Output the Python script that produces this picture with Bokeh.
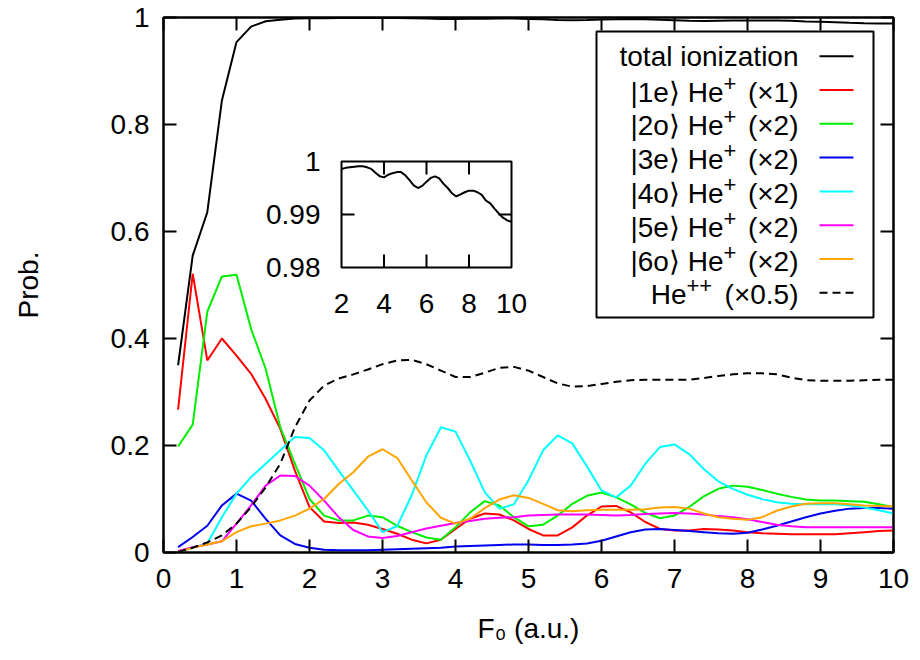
from bokeh.plotting import figure
from bokeh.models import Range1d, LinearAxis, Label, BoxAnnotation, Arrow
from bokeh.embed import file_html
from bokeh.resources import INLINE
from bokeh.core.properties import value

# ---------------- data ----------------
F0 = [0.2, 0.4, 0.6, 0.8, 1.0, 1.2, 1.4, 1.6, 1.8, 2.0,
      2.2, 2.4, 2.6, 2.8, 3.0, 3.2, 3.4, 3.6, 3.8, 4.0,
      4.2, 4.4, 4.6, 4.8, 5.0, 5.2, 5.4, 5.6, 5.8, 6.0,
      6.2, 6.4, 6.6, 6.8, 7.0, 7.2, 7.4, 7.6, 7.8, 8.0,
      8.2, 8.4, 8.6, 8.8, 9.0, 9.2, 9.4, 9.6, 9.8, 10.0]

total_ion = [0.350, 0.555, 0.636, 0.845, 0.954, 0.983, 0.993, 0.996, 0.998, 0.9986,
             0.9988, 0.9989, 0.9990, 0.9991, 0.9991, 0.9989, 0.9986, 0.9979, 0.9972, 0.9970,
             0.9975, 0.9978, 0.9980, 0.9980, 0.9974, 0.9965, 0.9955, 0.9950, 0.9954, 0.9962,
             0.9969, 0.9972, 0.9968, 0.9958, 0.9950, 0.9940, 0.9934, 0.9938, 0.9942, 0.9945,
             0.9945, 0.9942, 0.9937, 0.9926, 0.9921, 0.9911, 0.9902, 0.9894, 0.9889, 0.9886]

he1e = [0.267, 0.521, 0.359, 0.400, 0.368, 0.334, 0.287, 0.231, 0.153, 0.085,
        0.058, 0.055, 0.056, 0.052, 0.044, 0.035, 0.024, 0.017, 0.024, 0.044,
        0.063, 0.073, 0.071, 0.060, 0.044, 0.032, 0.032, 0.047, 0.069, 0.086,
        0.087, 0.075, 0.057, 0.044, 0.041, 0.041, 0.044, 0.043, 0.041, 0.038,
        0.036, 0.035, 0.034, 0.034, 0.034, 0.034, 0.036, 0.038, 0.040, 0.041]

he2o = [0.198, 0.239, 0.450, 0.516, 0.519, 0.418, 0.343, 0.234, 0.166, 0.100,
        0.069, 0.060, 0.060, 0.069, 0.066, 0.050, 0.038, 0.028, 0.024, 0.047,
        0.075, 0.096, 0.088, 0.066, 0.049, 0.052, 0.069, 0.091, 0.106, 0.112,
        0.103, 0.090, 0.074, 0.064, 0.069, 0.085, 0.105, 0.119, 0.125, 0.123,
        0.117, 0.110, 0.104, 0.099, 0.097, 0.097, 0.096, 0.095, 0.090, 0.085]

he3e = [0.010, 0.029, 0.050, 0.088, 0.110, 0.097, 0.063, 0.032, 0.016, 0.009,
        0.005, 0.004, 0.004, 0.004, 0.005, 0.006, 0.007, 0.008, 0.009, 0.011,
        0.012, 0.013, 0.014, 0.015, 0.015, 0.014, 0.014, 0.015, 0.017, 0.022,
        0.030, 0.038, 0.043, 0.044, 0.042, 0.040, 0.038, 0.036, 0.035, 0.037,
        0.043, 0.050, 0.058, 0.066, 0.073, 0.078, 0.082, 0.083, 0.083, 0.082]

he4o = [0.001, 0.009, 0.017, 0.066, 0.110, 0.141, 0.166, 0.191, 0.216, 0.214,
        0.191, 0.153, 0.116, 0.079, 0.038, 0.049, 0.107, 0.181, 0.234, 0.226,
        0.172, 0.113, 0.082, 0.090, 0.135, 0.191, 0.219, 0.204, 0.161, 0.116,
        0.103, 0.125, 0.166, 0.197, 0.202, 0.184, 0.156, 0.133, 0.119, 0.108,
        0.100, 0.094, 0.091, 0.090, 0.090, 0.090, 0.088, 0.084, 0.079, 0.073]

he5e = [0.003, 0.010, 0.015, 0.021, 0.054, 0.088, 0.125, 0.144, 0.143, 0.125,
        0.097, 0.066, 0.042, 0.030, 0.027, 0.031, 0.038, 0.045, 0.050, 0.055,
        0.059, 0.063, 0.065, 0.066, 0.069, 0.070, 0.071, 0.071, 0.071, 0.070,
        0.069, 0.070, 0.072, 0.073, 0.074, 0.073, 0.071, 0.068, 0.066, 0.062,
        0.057, 0.052, 0.049, 0.047, 0.047, 0.047, 0.047, 0.047, 0.047, 0.047]

he6o = [0.001, 0.009, 0.015, 0.021, 0.038, 0.049, 0.054, 0.060, 0.069, 0.082,
        0.100, 0.128, 0.150, 0.179, 0.193, 0.177, 0.135, 0.094, 0.065, 0.054,
        0.063, 0.083, 0.099, 0.107, 0.102, 0.091, 0.079, 0.077, 0.079, 0.080,
        0.080, 0.080, 0.081, 0.084, 0.085, 0.082, 0.073, 0.066, 0.063, 0.061,
        0.066, 0.078, 0.086, 0.091, 0.092, 0.092, 0.090, 0.088, 0.087, 0.086]

hepp = [0.001, 0.009, 0.019, 0.032, 0.054, 0.085, 0.122, 0.166, 0.234, 0.284,
        0.312, 0.325, 0.333, 0.342, 0.352, 0.359, 0.360, 0.352, 0.340, 0.328,
        0.328, 0.336, 0.345, 0.347, 0.340, 0.328, 0.316, 0.310, 0.311, 0.315,
        0.319, 0.322, 0.323, 0.323, 0.323, 0.323, 0.326, 0.330, 0.333, 0.335,
        0.335, 0.333, 0.327, 0.322, 0.321, 0.321, 0.321, 0.322, 0.323, 0.323]

x_ticks = [0, 1, 2, 3, 4, 5, 6, 7, 8, 9, 10]
x_tick_labels = ["0", "1", "2", "3", "4", "5", "6", "7", "8", "9", "10"]
y_ticks = [0.0, 0.2, 0.4, 0.6, 0.8, 1.0]
y_tick_labels = ["0", "0.2", "0.4", "0.6", "0.8", "1"]
x_axis_title = "F\u2080 (a.u.)"
y_axis_title = "Prob."

inset_x_ticks = [2, 4, 6, 8, 10]
inset_x_labels = ["2", "4", "6", "8", "10"]
inset_y_ticks = [0.98, 0.99, 1.0]
inset_y_labels = ["0.98", "0.99", "1"]
inset_x_lim = (2, 10)
inset_y_lim = (0.98, 1.0)

series_main = ["total ionization", "|1e\u27e9 He", "|2o\u27e9 He", "|3e\u27e9 He",
               "|4o\u27e9 He", "|5e\u27e9 He", "|6o\u27e9 He", "He"]
series_sup = ["", "+", "+", "+", "+", "+", "+", "++"]
series_suffix = ["", "(\u00d71)", "(\u00d72)", "(\u00d72)", "(\u00d72)", "(\u00d72)", "(\u00d72)", "(\u00d70.5)"]
series_data = [total_ion, he1e, he2o, he3e, he4o, he5e, he6o, hepp]
series_color = ["#000000", "#ff0000", "#00ee00", "#0000ee", "#00ffff", "#ff00ff", "#ffa500", "#000000"]
series_dash = ["solid", "solid", "solid", "solid", "solid", "solid", "solid", "8 5"]

# ---------------- layout constants (pixels) ----------------
W, H = 920, 660
FL, FR, FT, FB = 163, 893, 17, 552          # frame edges
IL, IR, IT, IB = 341, 511, 161, 267         # inset box edges
FONT = "Liberation Sans"
FS = "28px"
TICK = 13


def sx(px):
    return px - FL


def sy(py):
    return FB - py


p = figure(width=W, height=H, output_backend="svg", toolbar_location=None, title=None,
           x_range=Range1d(0, 10), y_range=Range1d(0, 1),
           min_border_left=FL, min_border_right=W - FR, min_border_top=FT, min_border_bottom=H - FB)
p.xgrid.visible = False
p.ygrid.visible = False
p.background_fill_color = "white"
p.border_fill_color = "white"
p.outline_line_color = "black"
p.outline_line_width = 2
p.outline_line_alpha = 1

# main axes
for ax, ticks, labels, title in ((p.xaxis[0], x_ticks, x_tick_labels, x_axis_title),
                                 (p.yaxis[0], y_ticks, y_tick_labels, y_axis_title)):
    ax.ticker = ticks
    ax.major_label_overrides = dict(zip(ticks, labels))
    ax.major_tick_in = TICK
    ax.major_tick_out = 0
    ax.major_tick_line_width = 2
    ax.minor_tick_line_color = None
    ax.axis_line_width = 2
    ax.major_label_text_font = FONT
    ax.major_label_text_font_size = FS
    ax.major_label_text_color = "black"
    ax.axis_label = title
    ax.axis_label_text_font = FONT
    ax.axis_label_text_font_size = FS
    ax.axis_label_text_font_style = "normal"
    ax.axis_label_text_color = "black"
p.xaxis[0].major_label_standoff = 16
p.yaxis[0].major_label_standoff = 14
p.yaxis[0].axis_label_standoff = 64
p.xaxis[0].axis_label_standoff = 22

# mirrored ticks on top and right
for loc, ticks in (("right", y_ticks), ("above", x_ticks)):
    ax = LinearAxis(ticker=ticks, major_label_overrides={t: "" for t in ticks},
                    major_tick_in=TICK, major_tick_out=0, major_tick_line_width=2,
                    minor_tick_line_color=None, axis_line_width=2,
                    major_label_standoff=0, major_label_text_font_size="1px")
    p.add_layout(ax, loc)

# curves
for ys, c, d in zip(series_data, series_color, series_dash):
    p.line(F0, ys, line_color=c, line_width=2, line_dash=d)

# ---------------- inset ----------------
kx = (IR - IL) / (inset_x_lim[1] - inset_x_lim[0])
ky = (IB - IT) / (inset_y_lim[1] - inset_y_lim[0])
p.extra_x_ranges = {"ix": Range1d(inset_x_lim[0] - (IL - FL) / kx, inset_x_lim[1] + (FR - IR) / kx)}
p.extra_y_ranges = {"iy": Range1d(inset_y_lim[0] - (FB - IB) / ky, inset_y_lim[1] + (IT - FT) / ky)}

ins_x = [x for x in F0 if x >= inset_x_lim[0]]
ins_y = [y for x, y in zip(F0, total_ion) if x >= inset_x_lim[0]]
p.line(ins_x, ins_y, x_range_name="ix", y_range_name="iy", line_color="black", line_width=2)
p.quad(left=[inset_x_lim[0]], right=[inset_x_lim[1]], bottom=[inset_y_lim[0]], top=[inset_y_lim[1]],
       x_range_name="ix", y_range_name="iy", fill_color=None, line_color="black", line_width=2)

inner_x = inset_x_ticks[1:-1]
inner_y = inset_y_ticks[1:-1]
tdx = TICK / kx
tdy = TICK / ky
p.segment(x0=inner_x + inner_x, y0=[inset_y_lim[0]] * len(inner_x) + [inset_y_lim[1]] * len(inner_x),
          x1=inner_x + inner_x, y1=[inset_y_lim[0] + tdy] * len(inner_x) + [inset_y_lim[1] - tdy] * len(inner_x),
          x_range_name="ix", y_range_name="iy", line_color="black", line_width=2)
p.segment(x0=[inset_x_lim[0]] * len(inner_y) + [inset_x_lim[1]] * len(inner_y), y0=inner_y + inner_y,
          x1=[inset_x_lim[0] + tdx] * len(inner_y) + [inset_x_lim[1] - tdx] * len(inner_y), y1=inner_y + inner_y,
          x_range_name="ix", y_range_name="iy", line_color="black", line_width=2)
p.text(x=inset_x_ticks, y=[inset_y_lim[0]] * len(inset_x_ticks), text=inset_x_labels,
       x_range_name="ix", y_range_name="iy", y_offset=36, text_align="center", text_baseline="middle",
       text_font=value(FONT), text_font_size=FS, text_color="black")
p.text(x=[inset_x_lim[0]] * len(inset_y_ticks), y=inset_y_ticks, text=inset_y_labels,
       x_range_name="ix", y_range_name="iy", x_offset=-21, text_align="right", text_baseline="middle",
       text_font=value(FONT), text_font_size=FS, text_color="black")

# ---------------- legend ----------------
LG_L, LG_R, LG_T, LG_B = 596, 873, 31, 317
p.add_layout(BoxAnnotation(left=sx(LG_L), right=sx(LG_R), top=sy(LG_T), bottom=sy(LG_B),
                           left_units="screen", right_units="screen", top_units="screen", bottom_units="screen",
                           fill_color="white", fill_alpha=1, line_color="black", line_width=2, line_alpha=1))
row0, drow = 55.7, 33.8
for i, (m, s, suf, c, d) in enumerate(zip(series_main, series_sup, series_suffix, series_color, series_dash)):
    cy = row0 + i * drow
    if suf == "":
        p.add_layout(Label(x=sx(798), y=sy(cy), x_units="screen", y_units="screen", text=m,
                           text_font=FONT, text_font_size=FS, text_align="right",
                           text_baseline="middle", text_color="black"))
    else:
        base = cy + 2
        split = 723 if len(s) == 1 else 686
        p.add_layout(Label(x=sx(798), y=sy(base), x_units="screen", y_units="screen", text=suf,
                           text_font=FONT, text_font_size=FS, text_align="right",
                           text_baseline="middle", text_color="black"))
        p.add_layout(Label(x=sx(split), y=sy(base - 9), x_units="screen", y_units="screen", text=s,
                           text_font=FONT, text_font_size="22px", text_align="left",
                           text_baseline="middle", text_color="black"))
        p.add_layout(Label(x=sx(split), y=sy(base), x_units="screen", y_units="screen", text=m,
                           text_font=FONT, text_font_size=FS, text_align="right",
                           text_baseline="middle", text_color="black"))
    p.add_layout(Arrow(end=None, x_start=sx(819), y_start=sy(cy), x_end=sx(853), y_end=sy(cy),
                       start_units="screen", end_units="screen",
                       line_color=c, line_width=2, line_dash=d))

open("out.html", "w").write(file_html(p, INLINE))
